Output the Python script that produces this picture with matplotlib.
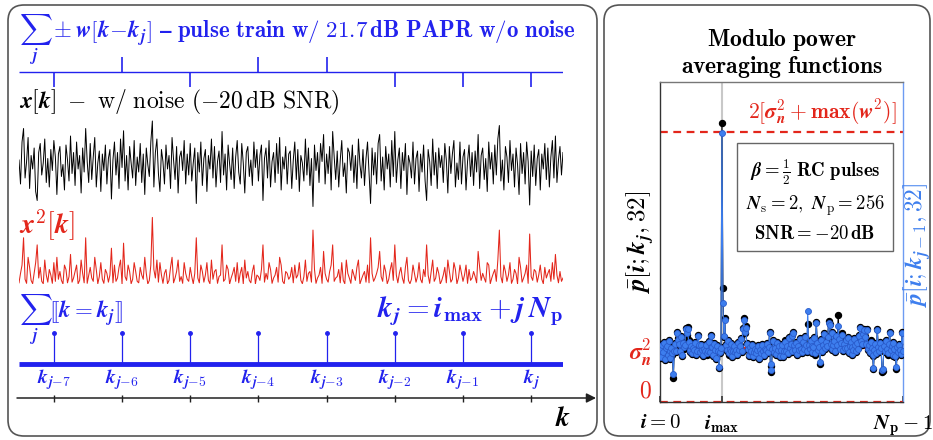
import numpy as np
import matplotlib
matplotlib.use("Agg")
import matplotlib.pyplot as plt
from matplotlib.patches import FancyBboxPatch

plt.rcParams['mathtext.fontset'] = 'cm'
plt.rcParams['font.family'] = ['DejaVu Serif', 'DejaVu Sans']

# ---------------- data ----------------
pulse_k = [23, 68, 113, 158, 203, 248, 293, 338]
pulse_sign = [-1, 1, -1, 1, 1, -1, -1, -1]
stem_height = [1, 1, 1, 1, 1, 1, 1, 1]
k_labels = [r"$\mathbfit{k}_{\mathbfit{j}\mathbf{-7}}$", r"$\mathbfit{k}_{\mathbfit{j}\mathbf{-6}}$",
            r"$\mathbfit{k}_{\mathbfit{j}\mathbf{-5}}$", r"$\mathbfit{k}_{\mathbfit{j}\mathbf{-4}}$",
            r"$\mathbfit{k}_{\mathbfit{j}\mathbf{-3}}$", r"$\mathbfit{k}_{\mathbfit{j}\mathbf{-2}}$",
            r"$\mathbfit{k}_{\mathbfit{j}\mathbf{-1}}$", r"$\mathbfit{k}_{\mathbfit{j}}$"]

x_noisy = [
    0.4, -1.2, 1.6, 2.5, -0.8, 0.3, 1.9, -1.5, 0.7, -0.2, 1.2, -1.7, -2.3, 0.9, 1.5, -0.6, 0.2, 1.8, -1.1, 0.5,
    -1.4, 1.1, -0.3, 1.7, 0.6, -1.9, 0.8, 1.3, -0.7, 0.1, -1.6, 1.4, 0.4, -1.0, 2.0, -0.5, 0.9, -1.3, 1.6, -0.2,
    0.7, -1.8, 1.2, -0.4, 2.5, 0.3, -1.1, 1.5, -0.9, 0.6, 1.9, -1.4, 0.2, 1.0, -1.7, 0.8, -0.3, 1.4, -1.2, 0.5,
    1.1, -2.2, 0.4, 1.6, -0.6, 0.9, -1.5, 1.8, -0.1, 2.35, -1.0, 0.7, -1.6, 1.3, 0.2, -0.8, 1.7, -1.3, 0.6, -0.4,
    1.5, -1.1, 0.8, -1.9, 1.2, 0.1, -0.7, 1.6, 3.0, -1.4, 0.9, 1.8, -0.5, -1.7, 1.1, 0.3, -1.2, 1.4, -0.2, 0.7,
    -1.5, 1.9, 0.4, -0.9, 1.3, -1.8, 0.6, 1.0, -0.3, 1.7, -1.2, 0.8, -0.6, 1.5, -1.0, 0.2, 1.2, -2.5, 0.9, -0.4,
    1.6, -1.3, 0.5, 1.1, -1.7, 0.7, -0.2, 1.8, -0.8, 1.3, -1.4, 0.3, 1.0, -1.1, 2.3, -0.6, 0.8, -1.6, 1.4, 0.1,
    -0.9, 1.2, -1.5, 0.6, 1.7, -0.4, -1.2, 1.5, 0.2, -1.8, 0.9, 1.3, -0.7, 0.4, -1.3, 1.6, -0.1, 1.1, -1.0, 0.7,
    1.4, -2.3, 0.5, 1.2, -0.8, 1.7, -1.4, 0.3, 0.9, -1.1, 1.5, -0.5, 1.9, -1.6, 0.6, -0.2, 1.3, -1.2, 0.8, 1.0,
    -1.5, 0.4, 1.6, -0.9, 1.1, -1.7, 0.7, 0.2, -1.0, 1.8, -0.6, 1.2, -1.3, 0.5, -2.7, 1.4, -0.3, 0.9, -1.1, 1.5,
    0.3, 2.1, -1.2, 0.8, -0.5, 1.3, -1.6, 2.3, 0.6, -0.9, 1.0, -1.4, 0.4, 1.7, -0.7, 0.2, -1.8, 1.2, 0.9, -0.3,
    1.4, -1.1, 0.7, -1.5, 1.8, 0.1, -0.8, 1.1, -1.3, 0.5, 1.6, -0.4, -2.5, 1.2, -0.6, 0.9, -1.2, 1.5, 2.1, -1.0,
    0.6, -1.6, 1.3, -0.2, 0.8, -1.4, 1.7, -0.7, 2.3, -1.1, 0.4, 1.2, -1.5, 0.9, -0.3, 1.5, -1.9, 0.7, 0.2, -0.8,
    1.6, -1.2, 0.5, 1.0, -1.7, 0.8, -0.4, 1.4, -1.0, -2.3, 1.1, 0.3, -1.3, 1.8, -0.6, 0.9, -1.5, 1.2, -0.1, 0.7,
    -1.1, 1.5, 0.4, -1.8, 1.3, -0.5, 0.8, 1.7, -1.4, 0.2, -0.9, 1.6, -1.2, 0.6, 1.1, -1.6, 0.3, 1.4, -0.7, 0.9,
    -1.3, 1.0, -0.4, 2.1, -1.5, 0.7, 1.2, -0.9, 0.5, -1.7, 1.6, -0.2, 0.9, -1.2, 1.4, -0.6, 1.8, 2.7, -1.0, 0.4,
    -1.6, 1.3, 0.6, -1.1, 1.7, -0.3, 0.8, -1.4, 1.2, 0.1, -1.9, 1.5, -0.5, 0.9, -1.2, 1.6, 0.3, -2.6, 1.0, -0.7,
    1.4, -1.3, 0.5, 1.1, -1.6, 0.8, -0.2, 1.5, -0.9, 1.2, -1.4, 0.6, 1.7, -0.8, 2.0, -1.1, 0.4, 1.3, -0.6, 0.9,
]

p_cur = [
    0.95, 0.82, 1.08, 0.90, 1.12, 0.78, 0.98, 1.05, 0.86, 1.15, 0.92, 0.80, 1.02, 0.88, 0.45, 0.97,
    1.10, 0.93, 1.30, 1.18, 1.05, 0.96, 1.22, 0.86, 1.12, 0.99, 1.08, 1.37, 1.25, 1.39, 1.14, 0.92,
    0.98, 1.06, 0.89, 1.02, 0.94, 1.11, 0.87, 0.96, 1.24, 1.03, 0.91, 1.08, 0.95, 0.85, 1.00, 0.93,
    1.07, 0.88, 0.97, 1.13, 0.90, 1.04, 1.25, 0.99, 0.86, 1.09, 0.95, 0.80, 1.06, 0.92, 0.63, 0.90,
    1.02, 5.17, 2.11, 1.20, 1.55, 1.08, 0.95, 1.15, 0.88, 1.01, 0.93, 1.10, 0.84, 0.97, 1.05, 0.90,
    0.99, 0.87, 1.12, 0.94, 1.06, 1.18, 0.92, 1.37, 1.55, 1.28, 1.40, 1.10, 0.96, 0.85, 1.03, 0.91,
    0.97, 1.08, 0.83, 0.95, 1.01, 0.89, 0.94, 1.05, 0.80, 0.98, 0.88, 1.07, 0.92, 0.86, 1.00, 0.95,
    1.10, 0.91, 1.04, 1.30, 0.56, 0.67, 0.96, 1.15, 0.90, 1.02, 0.87, 1.12, 0.95, 1.06, 0.84, 0.99,
    1.08, 0.84, 0.97, 1.14, 0.93, 1.05, 0.89, 1.20, 0.98, 1.10, 0.92, 1.25, 1.30, 1.03, 0.94, 1.11,
    0.87, 1.06, 0.95, 1.18, 1.00, 0.90, 1.13, 0.96, 1.22, 1.04, 0.93, 1.45, 1.08, 0.97, 1.15, 0.91,
    1.05, 0.99, 1.20, 0.88, 1.48, 1.12, 0.95, 1.03, 0.70, 1.17, 0.92, 1.08, 1.28, 0.98, 1.13, 1.06,
    1.22, 1.50, 1.45, 1.10, 0.96, 1.30, 1.04, 1.15, 0.92, 1.24, 1.08, 1.61, 1.18, 1.00, 1.12, 1.27,
    0.94, 1.09, 0.98, 1.16, 1.02, 1.21, 0.90, 1.06, 1.14, 0.87, 1.03, 0.95, 1.19, 1.07, 0.93, 1.11,
    1.00, 1.24, 1.39, 1.15, 1.05, 1.28, 1.35, 1.22, 1.10, 1.35, 0.97, 1.08, 0.90, 1.14, 1.02, 0.86,
    0.61, 0.95, 1.10, 0.89, 1.35, 1.04, 0.93, 1.12, 0.98, 0.56, 0.57, 1.06, 0.92, 1.15, 1.01, 0.88,
    1.09, 1.30, 0.94, 1.05, 0.85, 1.12, 0.97, 0.83, 0.61, 1.03, 0.90, 1.08, 0.95, 0.87, 1.30, 0.92,
]

p_prev = [
    0.97, 0.84, 1.05, 0.92, 1.10, 0.80, 1.00, 1.03, 0.88, 1.13, 0.94, 0.82, 1.00, 0.90, 0.52, 0.95,
    1.08, 0.95, 1.28, 1.15, 1.07, 0.94, 1.20, 0.88, 1.10, 1.01, 1.06, 1.35, 1.27, 1.36, 1.12, 0.94,
    0.96, 1.04, 0.91, 1.00, 0.96, 1.09, 0.89, 0.94, 1.22, 1.05, 0.93, 1.06, 0.97, 0.87, 0.98, 0.95,
    1.05, 0.90, 0.95, 1.11, 0.92, 1.02, 1.23, 1.01, 0.88, 1.07, 0.97, 0.82, 1.04, 0.94, 0.65, 0.92,
    1.00, 4.98, 1.83, 1.22, 1.52, 1.06, 0.97, 1.13, 0.90, 0.99, 0.95, 1.08, 0.86, 0.95, 1.03, 0.92,
    0.97, 0.89, 1.10, 0.96, 1.04, 1.16, 0.94, 1.35, 1.52, 1.30, 1.38, 1.08, 0.98, 0.87, 1.01, 0.93,
    0.95, 1.06, 0.85, 0.93, 0.99, 0.91, 0.96, 1.03, 0.82, 0.96, 0.90, 1.05, 0.94, 0.88, 0.98, 0.97,
    1.08, 0.93, 1.02, 1.28, 0.60, 0.70, 0.98, 1.13, 0.92, 1.00, 0.89, 1.10, 0.97, 1.04, 0.86, 0.97,
    1.06, 0.86, 0.95, 1.12, 0.95, 1.03, 0.91, 1.18, 1.00, 1.08, 0.94, 1.23, 1.28, 1.05, 0.96, 1.09,
    0.89, 1.04, 0.97, 1.16, 0.98, 0.92, 1.11, 0.98, 1.20, 1.06, 0.95, 1.69, 1.06, 0.99, 1.13, 0.93,
    1.03, 1.01, 1.18, 0.90, 1.46, 1.10, 0.97, 1.01, 0.74, 1.15, 0.94, 1.06, 1.26, 1.00, 1.11, 1.04,
    1.20, 1.47, 1.42, 1.08, 0.98, 1.28, 1.06, 1.13, 0.94, 1.22, 1.06, 1.40, 1.16, 0.98, 1.10, 1.25,
    0.96, 1.07, 1.00, 1.14, 1.00, 1.19, 0.92, 1.04, 1.12, 0.89, 1.01, 0.97, 1.17, 1.05, 0.95, 1.09,
    0.98, 1.22, 1.37, 1.13, 1.07, 1.26, 1.33, 1.20, 1.08, 1.33, 0.99, 1.06, 0.92, 1.12, 1.00, 0.88,
    0.63, 0.97, 1.08, 0.91, 1.33, 1.02, 0.95, 1.10, 1.00, 0.60, 0.62, 1.04, 0.94, 1.13, 0.99, 0.90,
    1.07, 1.28, 0.96, 1.03, 0.87, 1.10, 0.99, 0.85, 0.64, 1.01, 0.92, 1.06, 0.97, 0.89, 1.28, 0.94,
]

i_max = 65
sigma2_level = 1.0
top_level = 5.0
Np = 256

# ---------------- styling ----------------
BLUE = '#2222ee'
RED = '#e3261b'
RBLUE = '#3d7eee'
W, H = 933, 440

fig = plt.figure(figsize=(W / 100, H / 100), dpi=100)


def px_axes(x0, y0, x1, y1):
    ax = fig.add_axes([x0 / W, 1 - y1 / H, (x1 - x0) / W, (y1 - y0) / H])
    ax.set_axis_off()
    ax.patch.set_alpha(0)
    return ax


# background / text layer in pixel coordinates
bg = px_axes(0, 0, W, H)
bg.set_xlim(0, W)
bg.set_ylim(H, 0)
for (x0, y0, x1, y1) in [(8, 5, 597, 436), (604, 5, 930, 436)]:
    bg.add_patch(FancyBboxPatch((x0, y0), x1 - x0, y1 - y0,
                                boxstyle="round,pad=0,rounding_size=16",
                                fc='none', ec='#555555', lw=1.2))

x_arr = np.array(x_noisy)
k_idx = np.arange(len(x_arr))
N = len(x_arr)
X0, X1 = 19, 563
pxk = (X1 - X0) / (N - 1)

# --- pulse train ---
bg.text(19, 38, r"$\sum_{\mathbfit{j}}\pm\mathbfit{w}[\mathbfit{k}\!-\!\mathbfit{k}_{\mathbfit{j}}]\ \mathbf{–\ pulse\ train\ w/\ 21.7\,dB\ PAPR\ w/o\ noise}$",
        color=BLUE, fontsize=16.5, ha='left', va='baseline')
axp = px_axes(X0, 52, X1, 92)
axp.set_xlim(0, N - 1)
axp.set_ylim(-1.333, 1.333)
axp.hlines(0, 0, N - 1, color=BLUE, lw=1.0)
axp.vlines(pulse_k, 0, pulse_sign, color=BLUE, lw=1.2)

# --- noisy signal ---
bg.text(19, 108, r"$\mathbfit{x}[\mathbfit{k}]\ -\ \mathrm{w/\ noise\ (-20\,dB\ SNR)}$",
        color='black', fontsize=17, ha='left', va='baseline')
axx = px_axes(X0, 118, X1, 214)
axx.set_xlim(0, N - 1)
axx.set_ylim(-3.2, 3.2)
axx.plot(k_idx, x_arr, color='black', lw=0.7)

# --- squared ---
bg.text(19, 234, r"$\mathbfit{x}^{\mathbf{2}}[\mathbfit{k}]$", color=RED, fontsize=20,
        ha='left', va='baseline')
axq = px_axes(X0, 213, X1, 284)
axq.set_xlim(0, N - 1)
axq.set_ylim(0, 9.6)
axq.plot(k_idx, x_arr ** 2, color=RED, lw=0.75)

# --- indicator ---
bg.text(19, 318, r"$\sum_{\mathbfit{j}}[\![\mathbfit{k}=\mathbfit{k}_{\mathbfit{j}}]\!]$",
        color=BLUE, fontsize=16.5, ha='left', va='baseline')
bg.text(563, 317, r"$\mathbfit{k}_{\mathbfit{j}}=\mathbfit{i}_{\mathbf{max}}+\mathbfit{j}\,\mathbfit{N}_{\mathbf{p}}$",
        color=BLUE, fontsize=21, ha='right', va='baseline')
axs = px_axes(X0, 326, X1, 370)
axs.set_xlim(0, N - 1)
axs.set_ylim(-0.194, 1.226)
axs.plot([0, N - 1], [0, 0], color=BLUE, lw=3.5, solid_capstyle='butt')
axs.vlines(pulse_k, 0, stem_height, color=BLUE, lw=0.9)
axs.plot(pulse_k, stem_height, 'o', color=BLUE, ms=2.5)

# --- k axis ---
axk = px_axes(15, 388, 599, 408)
axk.set_xlim((15 - X0) / pxk, (599 - X0) / pxk)
axk.set_ylim(-1, 1)
axk.annotate('', xy=((596 - X0) / pxk, 0), xytext=((17 - X0) / pxk, 0),
             arrowprops=dict(arrowstyle='-|>', color='#222222', lw=1.1, mutation_scale=14,
                             shrinkA=0, shrinkB=0))
axk.vlines(pulse_k, -0.35, 0.35, color='#222222', lw=1.0)
for kk, lab in zip(pulse_k, k_labels):
    axk.text(kk, 1.8, lab, color=BLUE, fontsize=14, ha='center', va='center')
bg.text(563, 426, r"$\mathbfit{k}$", color='black', fontsize=20, ha='center', va='baseline')

# ---------------- right panel ----------------
bg.text(782, 46, r"$\mathbf{Modulo\ power}$", fontsize=17, ha='center', va='baseline')
bg.text(782, 73, r"$\mathbf{averaging\ functions}$", fontsize=17, ha='center', va='baseline')

axr = fig.add_axes([660 / W, 1 - 402 / H, (903 - 660) / W, (402 - 82) / H])
ii = np.arange(Np)
axr.set_xlim(0, Np - 1)
axr.set_ylim(0, 5.93)
axr.axvline(i_max, color='#c8c8c8', lw=1.5, zorder=1)
for lev in (0, sigma2_level, top_level):
    axr.axhline(lev, color=RED, lw=1.6, ls=(0, (3.5, 2.5)), zorder=2, clip_on=False)
axr.plot(ii, p_cur, '-o', color='black', lw=0.8, ms=4.3, mec='black', zorder=3)
axr.plot(ii, p_prev, '-o', color=RBLUE, lw=0.8, ms=4.3, mfc=RBLUE, mec='#2a5ccc', mew=0.6, zorder=4)

for side, col in (('left', '#333333'), ('bottom', '#333333'), ('top', '#777777'), ('right', '#6d9bf2')):
    axr.spines[side].set_color(col)
    axr.spines[side].set_linewidth(1.0)

axr.set_xticks([0, i_max, Np - 1])
axr.set_xticklabels([r"$\mathbfit{i}=\mathbf{0}$", r"$\mathbfit{i}_{\mathbf{max}}$",
                     r"$\mathbfit{N}_{\mathbf{p}}-\mathbf{1}$"], fontsize=15)
axr.tick_params(axis='x', direction='in', length=4, width=1.2, color='#333333', pad=8)
axr.set_yticks([0, sigma2_level])
axr.set_yticklabels([r"$\mathbf{0}$", r"$\mathbfit{\sigma}_{\mathbfit{n}}^{\mathbf{2}}$"],
                    fontsize=17, color=RED)
axr.tick_params(axis='y', length=0, pad=6)
axr.get_yticklabels()[0].set_verticalalignment('bottom')

axr.text(-0.082, 0.5, r"$\bar{\mathbfit{p}}[\mathbfit{i};\mathbfit{k}_{\mathbfit{j}},\mathbf{32}]$",
         transform=axr.transAxes, rotation=90, ha='center', va='center', fontsize=18, color='black')
axr.text(1.058, 0.49, r"$\bar{\mathbfit{p}}[\mathbfit{i};\mathbfit{k}_{\mathbfit{j}-\mathbf{1}},\mathbf{32}]$",
         transform=axr.transAxes, rotation=90, ha='center', va='center', fontsize=17, color=RBLUE)
axr.text(0.975, 0.905, r"$\mathbf{2}[\mathbfit{\sigma}_{\mathbfit{n}}^{\mathbf{2}}+\mathbf{max}(\mathbfit{w}^{\mathbf{2}})]$",
         transform=axr.transAxes, ha='right', va='center', fontsize=15.5, color=RED)
axr.text(0.638, 0.631,
         r"$\mathbfit{\beta}=\frac{1}{2}\ \mathbf{RC\ pulses}$" + "\n" +
         r"$\mathbfit{N}_{\mathrm{s}}=\mathbf{2},\ \mathbfit{N}_{\mathrm{p}}=\mathbf{256}$" + "\n" +
         r"$\mathbf{SNR}=-\mathbf{20\,dB}$",
         transform=axr.transAxes, ha='center', va='center', fontsize=13.5, linespacing=1.45,
         multialignment='center',
         bbox=dict(boxstyle='square,pad=0.45', fc='white', ec='#666666', lw=1.0), zorder=6)

fig.savefig('out.png', dpi=100)
